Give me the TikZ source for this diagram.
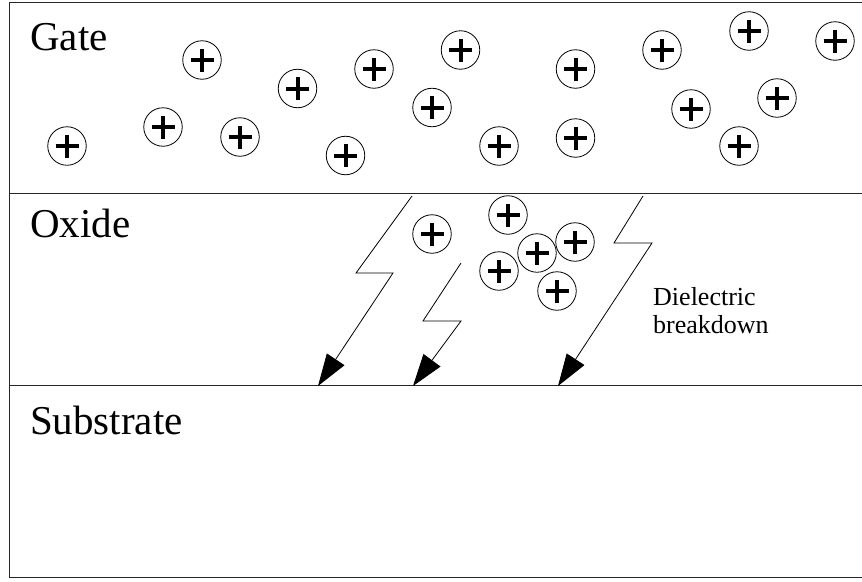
\documentclass[tikz,border=0pt]{standalone}
\usepackage{fontspec}
\setmainfont{Liberation Serif}
\usetikzlibrary{arrows.meta}

\tikzset{
  layer/.style={line width=0.9pt, draw=black!85},
  layerlabel/.style={anchor=base west, inner sep=0pt, font=\fontsize{41}{41}\selectfont},
  note/.style={anchor=base west, inner sep=0pt, align=left,
    font=\fontsize{26}{28}\selectfont},
  charge/.style={circle, draw, line width=0.8pt, minimum size=38.5pt, inner sep=0pt,
    path picture={
      \draw[line width=4pt] ([xshift=-11.5pt]path picture bounding box.center)
        -- ([xshift=11.5pt]path picture bounding box.center);
      \draw[line width=4pt] ([yshift=-11.5pt]path picture bounding box.center)
        -- ([yshift=11.5pt]path picture bounding box.center);
    }},
  bolt/.style={line width=0.8pt,
    -{Triangle[length=32pt, width=21pt]}},
}

\begin{document}
\begin{tikzpicture}[x=1pt, y=-1pt]
  \useasboundingbox (0,0) rectangle (862,581);

  % outline of the stack and the two interfaces
  \draw[layer] (863,2.5) -- (9.5,2.5) -- (9.5,577) -- (863,577);
  \draw[layer] (9.5,193.5) -- (863,193.5);
  \draw[layer] (9.5,385.5) -- (863,385.5);

  % layer names
  \node[layerlabel] (gate) at (30,50) {Gate};
  \node[layerlabel] (oxide) at (30,237) {Oxide};
  \node[layerlabel] (substrate) at (30,434) {Substrate};

  % positive charges in the gate
  \node[charge] (g1)  at (67,146) {};
  \node[charge] (g2)  at (202,60) {};
  \node[charge] (g3)  at (163,127) {};
  \node[charge] (g4)  at (240,137) {};
  \node[charge] (g5)  at (297.5,88.5) {};
  \node[charge] (g6)  at (374,69) {};
  \node[charge] (g7)  at (460.5,50) {};
  \node[charge] (g8)  at (432,107.5) {};
  \node[charge] (g9)  at (345.5,155.5) {};
  \node[charge] (g10) at (499,146) {};
  \node[charge] (g11) at (575.5,69) {};
  \node[charge] (g12) at (575.5,138) {};
  \node[charge] (g13) at (662,50) {};
  \node[charge] (g14) at (749,31) {};
  \node[charge] (g15) at (835,41) {};
  \node[charge] (g16) at (691,109) {};
  \node[charge] (g17) at (777,98) {};
  \node[charge] (g18) at (739,146) {};

  % positive charges trapped in the oxide
  \node[charge] (o1) at (432,234) {};
  \node[charge] (o2) at (508,215) {};
  \node[charge] (o3) at (537,253) {};
  \node[charge] (o4) at (575,242) {};
  \node[charge] (o5) at (499,271) {};
  \node[charge] (o6) at (557,291) {};

  % breakdown paths through the oxide
  \coordinate (b1s) at (412,196);
  \coordinate (b1t) at (318,386);
  \coordinate (b2s) at (461,263);
  \coordinate (b2t) at (413,386);
  \coordinate (b3s) at (643,196);
  \coordinate (b3t) at (558,386);

  \draw[bolt] (b1s) -- (356,273) -- (393,273) -- (b1t);
  \draw[bolt] (b2s) -- (423,321) -- (461,321) -- (b2t);
  \draw[bolt] (b3s) -- (614,243) -- (652,243) -- (b3t);

  \node[note] (label) at (653,333) {Dielectric\\breakdown};
\end{tikzpicture}
\end{document}
